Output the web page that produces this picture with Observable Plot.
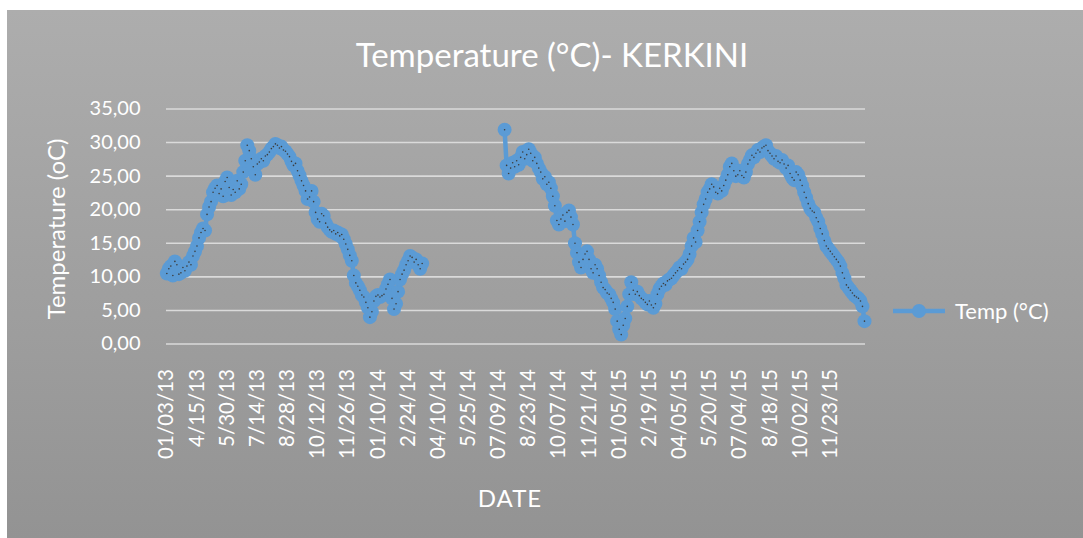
<!DOCTYPE html>
<html><head><meta charset="utf-8">
<script src="https://cdn.jsdelivr.net/npm/d3@7"></script>
<script src="https://cdn.jsdelivr.net/npm/@observablehq/plot@0.6"></script>
<style>
body{margin:0;background:#fff;}
#wrap{position:relative;width:1083px;height:538px;overflow:hidden;font-family:Lato,sans-serif;}
#panel{position:absolute;left:7px;top:10px;width:1076px;height:528px;background:linear-gradient(#adadad,#939393);}
#chart{position:absolute;left:0;top:0;}
#overlay{position:absolute;left:0;top:0;}
</style></head><body>
<div id="wrap"><div id="panel"></div><div id="chart"></div>
<svg id="overlay" width="1083" height="538" font-family="Lato, sans-serif" fill="#ffffff">
  <text id="title" x="552" y="67" text-anchor="middle" font-size="33"></text>
  <text id="ylab" transform="translate(65,229) rotate(-90)" text-anchor="middle" font-size="24"></text>
  <text id="xlab" x="510" y="507" text-anchor="middle" font-size="24" letter-spacing="1"></text>
  <g id="legend"></g>
</svg></div>
<script>
const title = "Temperature (°C)- KERKINI";
const yTitle = "Temperature (oC)";
const xTitle = "DATE";
const seriesName = "Temp (°C)";
const dateLabels = ["01/03/13","4/15/13","5/30/13","7/14/13","8/28/13","10/12/13","11/26/13","01/10/14","2/24/14","04/10/14","5/25/14","07/09/14","8/23/14","10/07/14","11/21/14","01/05/15","2/19/15","04/05/15","5/20/15","07/04/15","8/18/15","10/02/15","11/23/15"];
const labelEvery = 45;      // categories between labels
const stepDays = 3;         // one value read every 3 categories
const nCategories = 1043;
const yTicks = [0,5,10,15,20,25,30,35];
// temperature values, one per 3 days; null = missing data
const temps = [
10.5,11.2,11.6,10.2,12.3,11.8,10.4,10.6,11.4,10.9,
11.6,12.2,11.8,13.1,13.8,14.6,15.8,16.6,17.2,16.9,
19.3,20.4,21.2,22.6,23.2,23.6,22.4,23.1,22.0,24.2,
24.8,23.3,22.2,23.0,22.6,24.3,23.1,23.8,25.6,27.3,
29.6,28.8,27.6,26.4,25.2,26.8,27.1,27.6,27.3,28.0,
28.2,28.6,29.1,29.4,29.8,29.6,29.2,29.4,28.9,28.7,
28.3,27.9,27.2,26.6,26.9,25.8,25.1,24.3,23.6,22.8,
21.6,21.9,22.8,21.2,19.6,18.6,18.2,19.4,19.1,18.0,
17.4,17.0,16.7,16.9,16.4,16.6,16.1,16.3,15.6,14.9,
14.1,13.2,12.4,10.2,9.1,8.6,8.0,7.3,7.0,6.2,
5.4,4.0,4.8,6.4,7.1,7.3,7.0,7.2,7.4,8.2,
8.9,9.6,6.8,5.2,6.0,7.8,9.6,10.4,11.0,11.8,
12.4,13.1,12.9,12.2,12.6,11.8,11.2,12.0,
null,null,null,null,null,null,null,null,null,null,
null,null,null,null,null,null,null,null,null,null,
null,null,null,null,null,null,null,null,null,null,
null,null,null,null,null,null,null,null,null,null,
31.9,26.6,25.4,26.2,27.0,26.4,27.3,26.7,27.8,28.6,
27.6,28.2,29.0,28.4,27.3,27.8,26.9,26.2,25.6,24.6,
24.9,23.8,24.1,23.2,22.0,20.6,18.4,17.8,18.6,19.2,
18.3,19.6,19.9,18.9,17.8,15.0,13.6,12.2,11.4,12.6,
13.4,13.8,12.6,11.2,10.6,11.8,11.2,10.2,9.2,8.4,
8.1,7.6,7.4,6.8,6.2,5.2,3.4,2.2,1.4,2.8,
3.8,5.6,7.4,9.2,8.0,7.4,7.8,7.2,6.8,6.6,
6.2,5.9,6.4,5.8,5.4,6.0,7.4,8.2,8.6,9.0,
8.8,9.4,9.6,9.8,10.2,10.6,10.9,11.4,11.2,11.9,
12.2,12.6,13.4,14.6,15.8,15.2,16.9,18.2,19.6,20.8,
21.6,22.6,23.1,23.8,23.4,22.6,22.4,23.2,22.8,23.6,
24.4,25.2,26.4,26.9,25.8,25.0,25.2,25.8,25.1,24.8,
25.6,26.8,27.4,28.1,27.8,28.4,28.9,28.6,29.2,29.4,
29.6,28.8,28.4,28.0,27.6,28.0,27.2,27.0,27.4,26.8,
26.2,26.6,25.4,24.8,24.4,25.6,25.2,24.4,23.6,22.6,
21.8,20.9,20.2,19.8,19.6,18.8,18.2,17.2,16.4,15.4,
14.6,14.2,13.8,13.4,13.0,12.6,12.2,11.6,10.6,9.8,
8.8,8.4,8.0,7.6,7.2,7.0,6.8,6.4,5.6,3.4
];

const blue = "#5b9bd5";
const data = temps.map((v, i) => ({day: i * stepDays, temp: v}));
const tickPos = dateLabels.map((d, i) => i * labelEvery);
const fmtY = d => d.toFixed(2).replace(".", ",");

const chart = Plot.plot({
  width: 1083, height: 538,
  marginLeft: 166, marginRight: 218, marginTop: 108.5, marginBottom: 194.5,
  style: {background: "transparent", fontFamily: "Lato, sans-serif"},
  x: {domain: [-0.5, nCategories - 0.5], axis: null},
  y: {domain: [0, 35], axis: null},
  marks: [
    Plot.gridY(yTicks, {stroke: "#dadada", strokeOpacity: 1, strokeWidth: 1.6}),
    Plot.axisY(yTicks, {tickSize: 0, tickPadding: 26, tickFormat: fmtY, fontSize: 20, fill: "#ffffff", label: null}),
    Plot.axisX(tickPos, {tickSize: 0, tickPadding: 25, tickRotate: -90, tickFormat: (d, i) => dateLabels[i], fontSize: 20.5, fill: "#ffffff", label: null}),
    Plot.line(data, {x: "day", y: "temp", stroke: blue, strokeWidth: 4.5}),
    Plot.dot(data, {x: "day", y: "temp", r: 7, fill: blue}),
    Plot.dot(data, {x: "day", y: "temp", r: 0.8, fill: "#3c3c3c"})
  ]
});
document.getElementById("chart").appendChild(chart);

document.getElementById("title").textContent = title;
document.getElementById("ylab").textContent = yTitle;
document.getElementById("xlab").textContent = xTitle;
const lg = d3.select("#legend");
lg.append("line").attr("x1", 893).attr("x2", 945).attr("y1", 311).attr("y2", 311).attr("stroke", blue).attr("stroke-width", 4.5);
lg.append("circle").attr("cx", 919).attr("cy", 311).attr("r", 7).attr("fill", blue);
lg.append("text").attr("x", 955).attr("y", 319).attr("font-size", 22).text(seriesName);
</script>
</body></html>
